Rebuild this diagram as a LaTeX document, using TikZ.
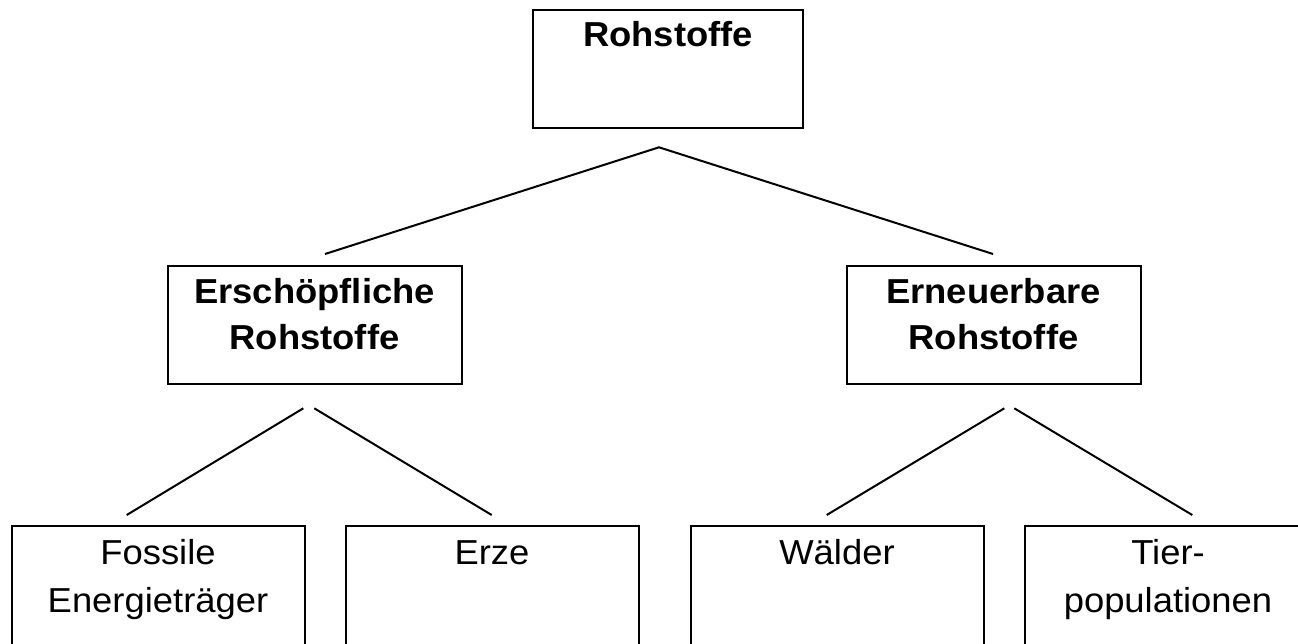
\documentclass[tikz,border=0pt]{standalone}
\usepackage{fontspec}
\setmainfont{Liberation Sans}[FakeStretch=1.05]
\begin{document}
\begin{tikzpicture}[x=0.75pt,y=-0.75pt,
  box/.style={draw=black, line width=1.5pt, inner sep=0pt, minimum height=88.5pt},
  midbox/.style={box, minimum width=220.5pt},
  leafbox/.style={box, minimum width=219.75pt, minimum height=115.5pt},
  lbl/.style={anchor=base, inner sep=0pt, text=black, font=\fontsize{26}{31}\selectfont},
  blbl/.style={lbl, font=\fontsize{26}{31}\selectfont\bfseries},
  conn/.style={draw=black, line width=1.5pt}]
\useasboundingbox (0,0) rectangle (1298,643);
\fill[white] (0,0) rectangle (1298,643);
\clip (0,0) rectangle (1298,643);

% boxes
\node[box, minimum width=202.5pt] (root) at (668,69) {};
\node[midbox] (ersch) at (314.5,325) {};
\node[midbox] (erneu) at (993.5,325) {};
\node[leafbox] (foss) at (158,603) {};
\node[leafbox] (erze) at (492,603) {};
\node[leafbox] (wald) at (837,603) {};
\node[leafbox] (tier) at (1171,603) {};

% texts
\node[blbl] (troot) at (668,46.7) {Rohstoffe};
\node[blbl] (tersch1) at (314.5,303.3) {Erschöpfliche};
\node[blbl] (tersch2) at (314.5,349.3) {Rohstoffe};
\node[blbl] (terneu1) at (993.5,303.3) {Erneuerbare};
\node[blbl] (terneu2) at (993.5,349.3) {Rohstoffe};
\node[lbl] (tfoss1) at (158,564.3) {Fossile};
\node[lbl] (tfoss2) at (158,612) {Energieträger};
\node[lbl] (terze) at (492,564.3) {Erze};
\node[lbl] (twald) at (837,564.3) {Wälder};
\node[lbl] (ttier1) at (1168,564.3) {Tier-};
\node[lbl] (ttier2) at (1168,612) {populationen};

% connector points
\coordinate (apex) at (659,147.3);
\coordinate (aL) at (325,254);
\coordinate (aR) at (993,254);
\coordinate (lA) at (303.3,408.3);
\coordinate (lB) at (314.3,408.3);
\coordinate (lL) at (126.7,515);
\coordinate (lR) at (491.7,515);
\coordinate (rA) at (1004.3,408.3);
\coordinate (rB) at (1014.3,408.3);
\coordinate (rL) at (826.7,515);
\coordinate (rR) at (1192.3,515);

\draw[conn] (aL) -- (apex) -- (aR);
\draw[conn] (lA) -- (lL);
\draw[conn] (lB) -- (lR);
\draw[conn] (rA) -- (rL);
\draw[conn] (rB) -- (rR);
\end{tikzpicture}
\end{document}
